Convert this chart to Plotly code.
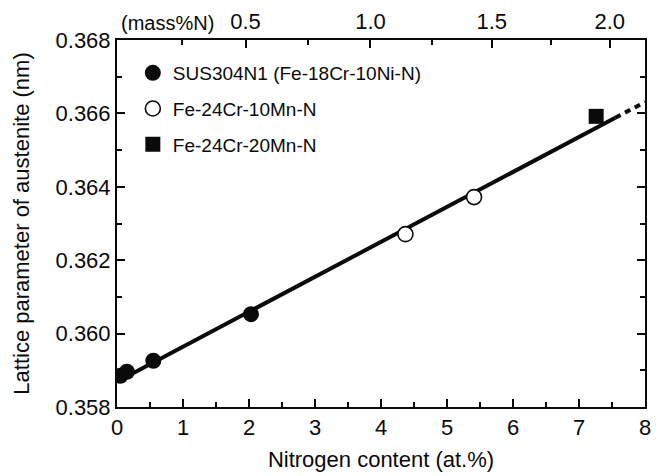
import plotly.graph_objects as go

# Measured lattice parameters of austenite vs nitrogen content (at.%)
sus_x = [0.05, 0.15, 0.55, 2.03]
sus_y = [0.35885, 0.35896, 0.35926, 0.36053]
mn10_x = [4.37, 5.41]
mn10_y = [0.36271, 0.36372]
mn20_x = [7.26]
mn20_y = [0.36592]

# Linear relation: solid over the measured range, dashed extrapolation
fit_x = [0.0, 7.55]
fit_y = [0.35869, 0.36588]
ext_x = [7.55, 8.0]
ext_y = [0.36588, 0.36631]

# Secondary (top) axis in mass% N
mass_major = [0.5, 1.0, 1.5, 2.0]
mass_labels = ["0.5", "1.0", "1.5", "2.0"]
mass_minor = [0.25, 0.75, 1.25, 1.75]

# Mean atomic mass of the Fe-18Cr-10Ni matrix, used to map mass% N onto at.% N
M_N = 14.007
M_BASE = 1.0 / (0.72 / 55.845 + 0.18 / 51.996 + 0.10 / 58.693)


def mass_to_at(m):
    n = m / M_N
    return 100.0 * n / (n + (100.0 - m) / M_BASE)


FONT = "Liberation Sans, Arial, Helvetica, sans-serif"
INK = "#0a0a0a"

fig = go.Figure()

fig.add_trace(go.Scatter(x=fit_x, y=fit_y, mode="lines",
                         line=dict(color=INK, width=4),
                         showlegend=False, hoverinfo="skip"))
fig.add_trace(go.Scatter(x=ext_x, y=ext_y, mode="lines",
                         line=dict(color=INK, width=4, dash="6px,5px"),
                         showlegend=False, hoverinfo="skip"))

fig.add_trace(go.Scatter(x=sus_x, y=sus_y, mode="markers",
                         name="SUS304N1 (Fe-18Cr-10Ni-N)", legendgroup="a",
                         marker=dict(symbol="circle", size=16, color=INK,
                                     line=dict(width=0))))
fig.add_trace(go.Scatter(x=mn10_x, y=mn10_y, mode="markers",
                         name="Fe-24Cr-10Mn-N", legendgroup="b",
                         marker=dict(symbol="circle", size=15, color="white",
                                     line=dict(width=1.6, color=INK))))
fig.add_trace(go.Scatter(x=mn20_x, y=mn20_y, mode="markers",
                         name="Fe-24Cr-20Mn-N", legendgroup="c",
                         marker=dict(symbol="square", size=15, color=INK,
                                     line=dict(width=0))))

# invisible trace that activates the top axis
fig.add_trace(go.Scatter(x=[0, 8], y=[0.358, 0.358], xaxis="x2", mode="markers",
                         marker=dict(opacity=0), showlegend=False, hoverinfo="skip"))

axis_common = dict(showline=True, linecolor=INK, linewidth=2,
                   ticks="inside", tickcolor=INK, tickwidth=1.5,
                   showgrid=False, zeroline=False, automargin=False,
                   tickfont=dict(family=FONT, size=22, color=INK))

fig.update_layout(
    width=661, height=476,
    margin=dict(l=117, r=16, t=40, b=69),
    paper_bgcolor="white", plot_bgcolor="white",
    font=dict(family=FONT, color=INK),
    xaxis=dict(range=[0, 8], tickvals=list(range(0, 9)), ticklen=8,
               minor=dict(tickvals=[0.5 + i for i in range(8)], ticklen=5,
                          ticks="inside", tickcolor=INK, tickwidth=1.5),
               title=dict(text="Nitrogen content (at.%)", standoff=12,
                          font=dict(family=FONT, size=22, color=INK)),
               **axis_common),
    xaxis2=dict(range=[0, 8], overlaying="x", side="top", anchor="y",
                tickvals=[mass_to_at(m) for m in mass_major],
                ticktext=mass_labels, ticklen=8,
                minor=dict(tickvals=[mass_to_at(m) for m in mass_minor], ticklen=5,
                           ticks="inside", tickcolor=INK, tickwidth=1.5),
                **axis_common),
    yaxis=dict(range=[0.358, 0.368], tickvals=[0.358, 0.360, 0.362, 0.364, 0.366, 0.368],
               ticktext=["0.358", "0.360", "0.362", "0.364", "0.366", "0.368"],
               ticklen=8, mirror="ticks",
               minor=dict(tickvals=[0.359, 0.361, 0.363, 0.365, 0.367], ticklen=5,
                          ticks="inside", tickcolor=INK, tickwidth=1.5),
               title=dict(text="Lattice parameter of austenite (nm)", standoff=20,
                          font=dict(family=FONT, size=22, color=INK)),
               **axis_common),
    legend=dict(x=0.03, y=0.962, xanchor="left", yanchor="top",
                bgcolor="rgba(0,0,0,0)", borderwidth=0, tracegroupgap=8,
                font=dict(family=FONT, size=19, color=INK)),
    annotations=[dict(text="(mass%N)", xref="x2", yref="paper",
                      x=mass_to_at(0.5), y=1.0, xanchor="right", yanchor="bottom",
                      xshift=-30, yshift=4, showarrow=False,
                      font=dict(family=FONT, size=20, color=INK))],
)

fig.write_html("out.html")
